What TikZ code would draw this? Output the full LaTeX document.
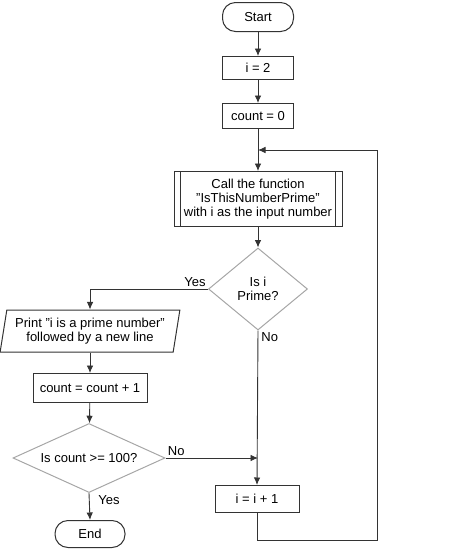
\documentclass[tikz,border=0pt]{standalone}
\usepackage{fontspec}
\setmainfont{Liberation Sans}
\usepackage{tikz}
\usetikzlibrary{arrows.meta,positioning,calc,shapes.geometric}

\tikzset{
  flow/.style={draw=black!80, line width=0.9pt, -{Latex[length=7.5pt,width=6.5pt]}},
  procbox/.style={draw=black!80, line width=1pt, inner sep=2pt, align=center},
  termbox/.style={procbox, rounded corners=13pt},
  decision/.style={diamond, draw=black!35, line width=1pt, inner sep=0pt, align=center},
  iobox/.style={trapezium, trapezium left angle=77, trapezium right angle=103,
    trapezium stretches=true, draw=black!80, line width=1pt, inner sep=0pt, align=center},
  lbl/.style={inner sep=2pt}
}

\begin{document}
\begin{tikzpicture}[x=1pt,y=-1pt,font=\fontsize{13}{14}\selectfont]
  \useasboundingbox (0,0) rectangle (474,555);
  % main column
  \node[termbox, minimum width=71pt, minimum height=29pt] (start) at (258,17) {Start};
  \node[procbox, minimum width=71pt, minimum height=23pt] (init) at (258,68) {i = 2};
  \node[procbox, minimum width=71pt, minimum height=25pt] (zero) at (258,116) {count = 0};
  \node[procbox, minimum width=168pt, minimum height=55pt] (call) at (258,199)
    {Call the function\\"IsThisNumberPrime"\\with i as the input number};
  \draw[line width=1pt, draw=black!80] ($(call.north west)+(7,0)$) -- ($(call.south west)+(7,0)$);
  \draw[line width=1pt, draw=black!80] ($(call.north east)+(-7,0)$) -- ($(call.south east)+(-7,0)$);
  \node[decision, shape aspect=1.2, minimum width=99pt, minimum height=82pt] (prime) at (258,289) {Is i\\Prime?};
  \node[procbox, minimum width=84pt, minimum height=27pt] (next) at (257,499) {i = i + 1};
  % left column
  \node[iobox, minimum width=180pt, minimum height=42pt] (print) at (90,331)
    {Print "i is a prime number"\\followed by a new line};
  \node[procbox, minimum width=114pt, minimum height=29pt] (incr) at (90,388) {count = count + 1};
  \node[decision, shape aspect=2.2, minimum width=152pt, minimum height=69pt] (enough) at (89,458) {Is count >= 100?};
  \node[termbox, minimum width=70pt, minimum height=27pt] (stop) at (90,534) {End};
  % loop points
  \coordinate (join) at ($(zero.south)!0.5!(call.north)$);
  \coordinate (back) at (377,540);
  % connectors
  \draw[flow] (start) -- (init);
  \draw[flow] (init) -- (zero);
  \draw[flow] (zero) -- (call);
  \draw[flow] (call) -- (prime);
  \draw[flow] (prime.west) -| node[lbl, anchor=south east, pos=0] {Yes} (print.north);
  \draw[flow] (prime.south) -- node[lbl, anchor=north west, pos=0, xshift=1pt] {No} (next.north);
  \draw[flow] (print) -- (incr);
  \draw[flow] (incr) -- (enough);
  \draw[flow] (enough.south) -- node[lbl, anchor=north west, pos=0, xshift=7pt] {Yes} (stop.north);
  \draw[flow] (enough.east) -- node[lbl, anchor=south west, pos=0] {No} (enough.east -| prime.south);
  \draw[flow] (next) |- (back) |- (join);
\end{tikzpicture}
\end{document}
